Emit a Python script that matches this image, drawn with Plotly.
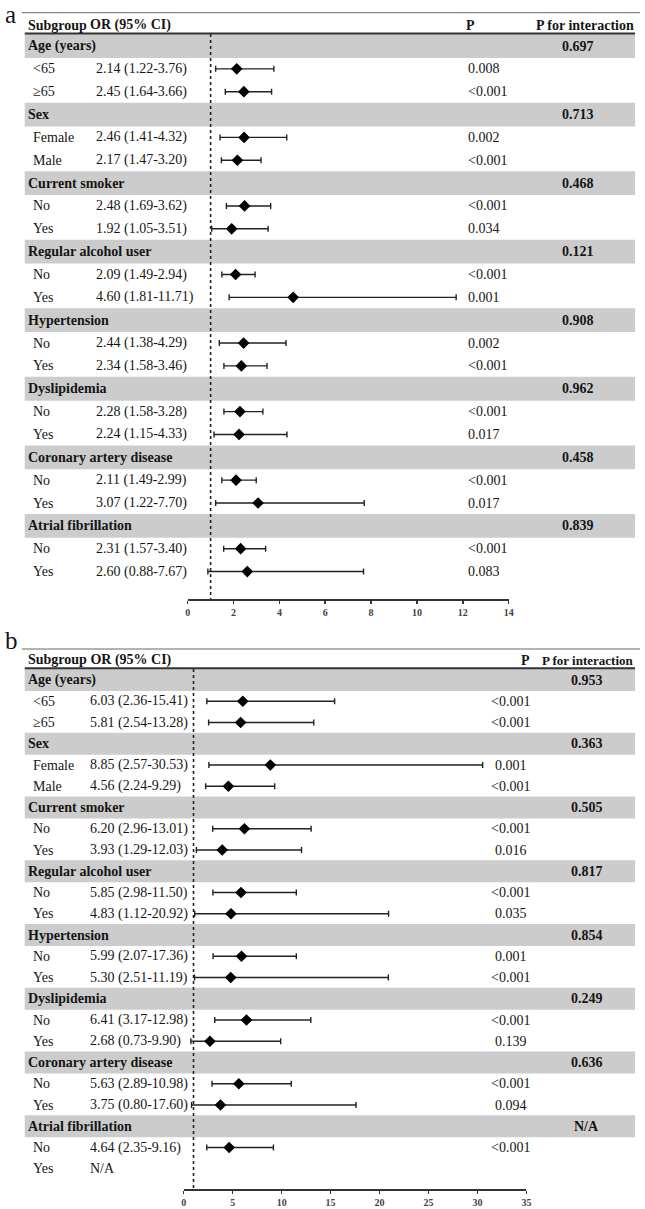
import plotly.graph_objects as go

W, H = 645, 1209

groups = ["Age (years)", "Sex", "Current smoker", "Regular alcohol user", "Hypertension",
          "Dyslipidemia", "Coronary artery disease", "Atrial fibrillation"]
sub_labels = ["<65", "≥65", "Female", "Male", "No", "Yes", "No", "Yes", "No", "Yes",
              "No", "Yes", "No", "Yes", "No", "Yes"]

# Panel a: printed OR (95% CI) labels and plotted marks
a_labels = ["2.14 (1.22-3.76)", "2.45 (1.64-3.66)", "2.46 (1.41-4.32)", "2.17 (1.47-3.20)",
            "2.48 (1.69-3.62)", "1.92 (1.05-3.51)", "2.09 (1.49-2.94)", "4.60 (1.81-11.71)",
            "2.44 (1.38-4.29)", "2.34 (1.58-3.46)", "2.28 (1.58-3.28)", "2.24 (1.15-4.33)",
            "2.11 (1.49-2.99)", "3.07 (1.22-7.70)", "2.31 (1.57-3.40)", "2.60 (0.88-7.67)"]
a_or = [2.14, 2.45, 2.46, 2.17, 2.48, 1.92, 2.09, 4.60, 2.44, 2.34, 2.28, 2.24, 2.11, 3.07, 2.31, 2.60]
a_lo = [1.22, 1.64, 1.41, 1.47, 1.69, 1.05, 1.49, 1.81, 1.38, 1.58, 1.58, 1.15, 1.49, 1.22, 1.57, 0.88]
a_hi = [3.76, 3.66, 4.32, 3.20, 3.62, 3.51, 2.94, 11.71, 4.29, 3.46, 3.28, 4.33, 2.99, 7.70, 3.40, 7.67]
a_p = ["0.008", "<0.001", "0.002", "<0.001", "<0.001", "0.034", "<0.001", "0.001", "0.002", "<0.001",
       "<0.001", "0.017", "<0.001", "0.017", "<0.001", "0.083"]
a_pint = ["0.697", "0.713", "0.468", "0.121", "0.908", "0.962", "0.458", "0.839"]
a_ticks = [0, 2, 4, 6, 8, 10, 12, 14]

# Panel b: printed labels; plotted marks as drawn in the figure
b_labels = ["6.03 (2.36-15.41)", "5.81 (2.54-13.28)", "8.85 (2.57-30.53)", "4.56 (2.24-9.29)",
            "6.20 (2.96-13.01)", "3.93 (1.29-12.03)", "5.85 (2.98-11.50)", "4.83 (1.12-20.92)",
            "5.99 (2.07-17.36)", "5.30 (2.51-11.19)", "6.41 (3.17-12.98)", "2.68 (0.73-9.90)",
            "5.63 (2.89-10.98)", "3.75 (0.80-17.60)", "4.64 (2.35-9.16)", "N/A"]
b_or = [6.03, 5.81, 8.85, 4.56, 6.20, 3.93, 5.85, 4.83, 5.9, 4.8, 6.41, 2.68, 5.63, 3.75, 4.64, None]
b_lo = [2.36, 2.54, 2.57, 2.24, 2.96, 1.29, 2.98, 1.12, 3.0, 1.1, 3.17, 0.73, 2.89, 0.80, 2.35, None]
b_hi = [15.41, 13.28, 30.53, 9.29, 13.01, 12.03, 11.50, 20.92, 11.5, 20.9, 12.98, 9.90, 10.98, 17.60, 9.16, None]
b_p = ["<0.001", "<0.001", "0.001", "<0.001", "<0.001", "0.016", "<0.001", "0.035", "0.001", "<0.001",
       "<0.001", "0.139", "<0.001", "0.094", "<0.001", ""]
b_pint = ["0.953", "0.363", "0.505", "0.817", "0.854", "0.249", "0.636", "N/A"]
b_ticks = [0, 5, 10, 15, 20, 25, 30, 35]

FONT = "Liberation Serif"
TXT = "#151515"
fig = go.Figure()
annotations = []
shapes = []


def sub_rows():
    return [3 * (k // 2) + 1 + (k % 2) for k in range(16)]


def ann(x, y, yref, text, anchor="left", size=14):
    annotations.append(dict(xref="paper", yref=yref, x=x / W, y=y, text=text, showarrow=False,
                            xanchor=anchor, yanchor="middle",
                            font=dict(family=FONT, size=size, color=TXT)))


def build_panel(xa, ya, labels, ors, los, his, ptexts, pints, letter, cfg):
    rows = sub_rows()
    xs, ys, ep, em = [], [], [], []
    for r, o, l, h in zip(rows, ors, los, his):
        if o is None:
            continue
        xs.append(o); ys.append(r); ep.append(h - o); em.append(o - l)
    fig.add_trace(go.Scatter(
        x=xs, y=ys, xaxis=xa, yaxis=ya, mode="markers",
        marker=dict(symbol="diamond", size=9, color="black"),
        error_x=dict(type="data", array=ep, arrayminus=em, color="#222", thickness=1.4, width=3),
        hoverinfo="skip", showlegend=False))
    for g, name in enumerate(groups):
        r = 3 * g
        shapes.append(dict(type="rect", xref="paper", yref=ya, x0=22 / W, x1=640 / W,
                           y0=r - 0.52, y1=r + 0.52, fillcolor="#cccccc", line=dict(width=0), layer="below"))
        ann(cfg["grp_x"], r, ya, "<b>%s</b>" % name)
        ann(cfg["pint_x"], r, ya, "<b>%s</b>" % pints[g], anchor="center")
    for k, r in enumerate(rows):
        ann(cfg["sub_x"], r, ya, sub_labels[k])
        ann(cfg["or_x"], r, ya, labels[k])
        if ptexts[k]:
            ann(cfg["p_x"], r, ya, ptexts[k], anchor=cfg["p_anchor"])
    for txt, x, anc, sz in cfg["headers"]:
        ann(x, cfg["hdr_y"], ya, "<b>%s</b>" % txt, anchor=anc, size=sz)
    shapes.append(dict(type="line", xref="paper", yref=ya, x0=19 / W, x1=645 / W,
                       y0=cfg["top_rule"], y1=cfg["top_rule"], line=dict(color="#666", width=1)))
    shapes.append(dict(type="line", xref="paper", yref=ya, x0=22 / W, x1=640 / W,
                       y0=-0.55, y1=-0.55, line=dict(color="#333", width=2)))
    shapes.append(dict(type="line", xref=xa, yref=ya, x0=1, x1=1,
                       y0=-0.52, y1=cfg["ybottom"], line=dict(color="#222", width=1.6, dash="dot")))
    annotations.append(dict(xref="paper", yref="paper", x=cfg["letter_x"] / W, y=1 - cfg["letter_y"] / H,
                            text=letter, showarrow=False, xanchor="left", yanchor=cfg["letter_anchor"],
                            borderpad=0, font=dict(family=FONT, size=25, color=TXT)))


# pixel geometry
a_row0, a_step, a_axis, a_top = 46, 22.85, 599, 0
b_row0, b_step, b_axis, b_top = 680, 21.25, 1189, 620
a_ybot = (a_axis - a_row0) / a_step
a_ytop = (a_top - a_row0) / a_step
b_ybot = (b_axis - b_row0) / b_step
b_ytop = (b_top - b_row0) / b_step

build_panel("x", "y", a_labels, a_or, a_lo, a_hi, a_p, a_pint, "a", dict(
    grp_x=23, sub_x=28, or_x=92, p_x=469, p_anchor="left", pint_x=582,
    headers=[("Subgroup", 23, "left", 14), ("OR (95% CI)", 86, "left", 14), ("P", 473, "center", 14),
             ("P for interaction", 641, "right", 14)],
    hdr_y=(25 - a_row0) / a_step, top_rule=(12.7 - a_row0) / a_step, ybottom=a_ybot,
    letter_x=1, letter_y=0, letter_anchor="top"))
build_panel("x2", "y2", b_labels, b_or, b_lo, b_hi, b_p, b_pint, "b", dict(
    grp_x=23, sub_x=28, or_x=86, p_x=514, p_anchor="center", pint_x=591,
    headers=[("Subgroup OR (95% CI)", 23, "left", 14), ("P", 529, "center", 14),
             ("P for interaction", 641, "right", 13)],
    hdr_y=(660 - b_row0) / b_step, top_rule=(649 - b_row0) / b_step, ybottom=b_ybot,
    letter_x=1, letter_y=640, letter_anchor="middle"))

axis_common = dict(showline=True, linecolor="#333", linewidth=1.5, ticks="outside", ticklen=3,
                   tickwidth=1.5, tickcolor="#333", showgrid=False, zeroline=False,
                   tickfont=dict(family=FONT, size=10, color="#444", weight="bold"))
fig.update_layout(
    width=W, height=H, margin=dict(l=0, r=0, t=0, b=0),
    paper_bgcolor="white", plot_bgcolor="rgba(0,0,0,0)", showlegend=False,
    xaxis=dict(domain=[187 / W, 512 / W], range=[0, 14], tickvals=a_ticks, anchor="y", **axis_common),
    yaxis=dict(domain=[(H - a_axis) / H, 1], range=[a_ybot, a_ytop], visible=False),
    xaxis2=dict(domain=[183 / W, 530 / W], range=[0, 35], tickvals=b_ticks, anchor="y2", **axis_common),
    yaxis2=dict(domain=[(H - b_axis) / H, (H - b_top) / H], range=[b_ybot, b_ytop], visible=False),
    annotations=annotations, shapes=shapes,
)
fig.write_html("out.html", config={"displayModeBar": False, "staticPlot": True},
               post_script="document.body.style.margin='0px';document.body.style.padding='0px';"
                           "document.body.style.overflow='hidden';")
